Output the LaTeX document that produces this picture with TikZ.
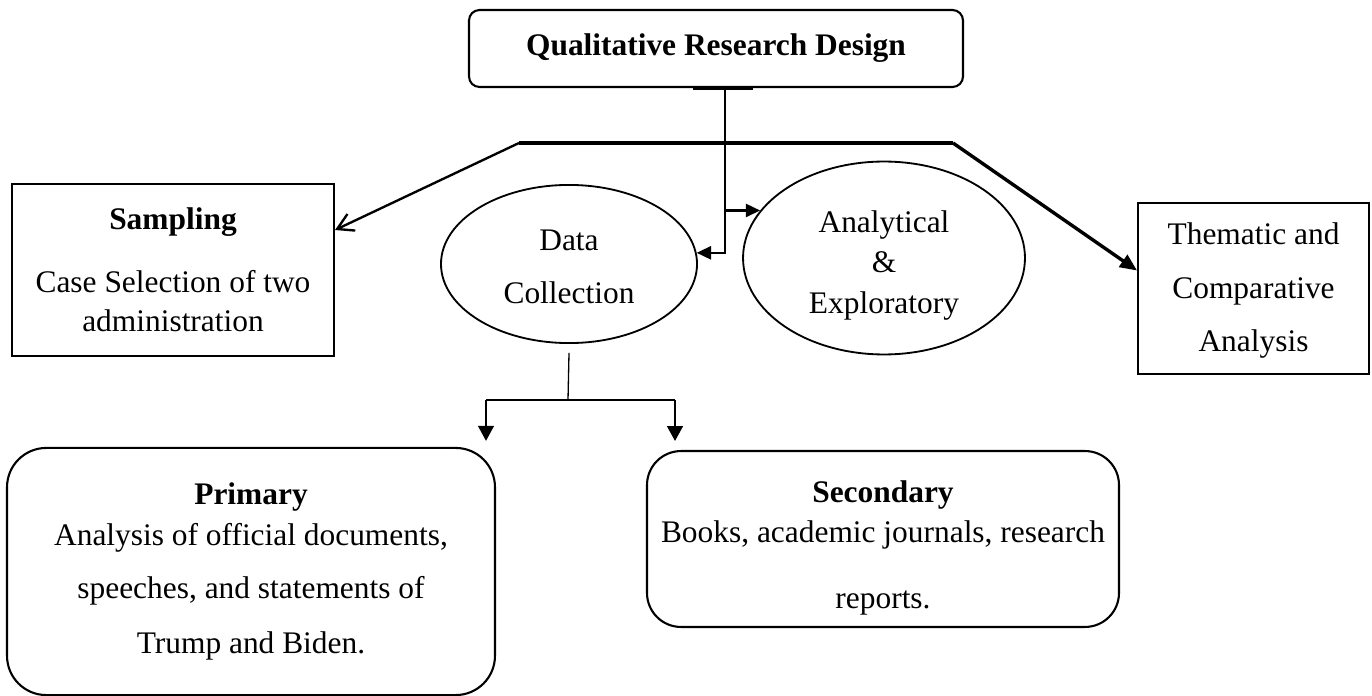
\documentclass[tikz,border=0pt]{standalone}
\usepackage{fontspec}
\setmainfont{Liberation Serif}
\usetikzlibrary{shapes.geometric,arrows.meta,calc}
\tikzset{
  sqbox/.style={rectangle,draw,line width=0.8pt,align=center,inner sep=0pt},
  roundbox/.style={sqbox,rounded corners=14pt},
  ovalnode/.style={ellipse,draw,line width=0.7pt,align=center,inner sep=0pt},
  heavy/.style={line width=1.3pt},
  link/.style={line width=0.9pt},
  thinlink/.style={line width=0.5pt},
  tri/.style={-{Triangle[length=5.5pt,width=5pt]}},
  downtri/.style={-{Triangle[length=5.7pt,width=6pt]}}
}

\begin{document}
\begin{tikzpicture}[x=0.382pt,y=-0.382pt]
  \useasboundingbox (0,0) rectangle (1372,696);

  % Title
  \node[sqbox,rounded corners=4pt,minimum width=188.7pt,minimum height=29.4pt,
    font=\fontsize{12}{15}\selectfont\bfseries] (qrd) at (716,48.5) {Qualitative Research Design};

  % Second row
  \node[sqbox,minimum width=123pt,minimum height=65.7pt,font=\fontsize{12}{15}\selectfont]
    (samp) at (173,270) {\textbf{Sampling}\\[9pt] Case Selection of two\\ administration};
  \node[ovalnode,minimum width=97.8pt,minimum height=60.4pt,font=\fontsize{12}{20.2}\selectfont]
    (dc) at (569,264) {\rule{0pt}{10pt}Data\\ Collection};
  \node[ovalnode,minimum width=107.7pt,minimum height=73.7pt,font=\fontsize{12}{15.5}\selectfont]
    (ae) at (884,258) {\rule{0pt}{14pt}Analytical\\ \&\\ Exploratory};
  \node[sqbox,minimum width=88.2pt,minimum height=65.3pt,font=\fontsize{12}{20.5}\selectfont]
    (tca) at (1253.5,288.5) {\rule{0pt}{10pt}Thematic and\\ Comparative\\ Analysis};

  % Sources
  \node[roundbox,rounded corners=15pt,minimum width=186.4pt,minimum height=94.4pt,
    font=\fontsize{12}{15.5}\selectfont] (prim) at (251,571.5)
    {\textbf{Primary}\\ Analysis of official documents,\\[5pt] speeches, and statements of\\[5.5pt] Trump and Biden.};
  \node[roundbox,rounded corners=13pt,minimum width=180.3pt,minimum height=67.2pt,
    font=\fontsize{12}{15.3}\selectfont] (sec) at (883,539)
    {\rule{0pt}{15pt}\textbf{Secondary}\\ Books, academic journals, research\\[10pt] reports.};

  % Connectors from the title
  \coordinate (trunk) at (725,87);
  \coordinate (barL) at (519,143);
  \coordinate (barR) at (953,143);

  \draw[heavy] ($(qrd.south)+(-23,0)$) -- ($(qrd.south)+(37,0)$);
  \draw[link,tri] (trunk) |- (dc.5);
  \draw[link,tri] (trunk |- ae.159) -- (ae.159);
  \draw[heavy] (barL) -- (barR);
  \draw[link,-{Straight Barb[length=6pt,width=7pt]}] (barL) -- ($(samp.east)+(0,-40)$);
  \draw[heavy,-{Triangle[length=6.5pt,width=5.5pt]}] (barR) -- ($(tca.west)+(0,-18)$);

  % Split below Data Collection
  \coordinate (split) at (568,400);
  \coordinate (brL) at (486,400);
  \coordinate (brR) at (675,400);
  \draw[thinlink] ($(dc.south)+(0,9)$) -- (split);
  \draw[thinlink] (brL) -- (brR);
  \draw[thinlink,line width=0.65pt,downtri] (brL) -- ($(brL |- prim.north)+(0,-6)$);
  \draw[link,downtri] (brR) -- ($(brR |- sec.north)+(0,-9)$);

\end{tikzpicture}
\end{document}
